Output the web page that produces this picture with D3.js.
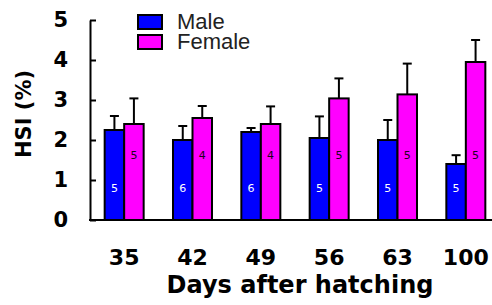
<!DOCTYPE html>
<html>
<head>
<meta charset="utf-8">
<script src="https://cdn.jsdelivr.net/npm/d3@7"></script>
<style>
  body { margin: 0; background: #fff; }
  svg { display: block; }
</style>
</head>
<body>
<svg id="chart" width="492" height="305"></svg>
<script>
// 数据
const days = ["35", "42", "49", "56", "63", "100"]
const series = ["Male", "Female"]
const maleHSI = [2.25, 2.0, 2.2, 2.05, 2.0, 1.4]
const maleErr = [0.35, 0.35, 0.1, 0.54, 0.5, 0.22]
const femaleHSI = [2.4, 2.55, 2.4, 3.04, 3.14, 3.95]
const femaleErr = [0.64, 0.3, 0.44, 0.5, 0.77, 0.55]
const maleN = ["5", "6", "6", "5", "5", "5"]
const femaleN = ["5", "4", "4", "5", "5", "5"]
const yTicks = [0, 1, 2, 3, 4, 5]

const colors = { Male: "#0000ff", Female: "#ff00ff" }
const fontBold = "'DejaVu Sans', sans-serif"

const svg = d3.select("#chart")

const x0 = d3.scaleBand().domain(days).range([90, 500]).padding(0)
const x1 = d3.scaleBand().domain(series).range([-19.5, 19.5])
const y = d3.scaleLinear().domain([0, 5]).range([220, 20])

const rows = days.map((d, i) => ({
    day: d,
    vals: [
        { s: "Male", v: maleHSI[i], e: maleErr[i], n: maleN[i] },
        { s: "Female", v: femaleHSI[i], e: femaleErr[i], n: femaleN[i] }
    ]
}))

// y 轴
const yAxis = svg.append("g").attr("transform", "translate(90,0)")
    .call(d3.axisLeft(y).tickValues(yTicks).tickFormat(d3.format("d")).tickSizeInner(-6).tickSizeOuter(0).tickPadding(22))
yAxis.select(".domain").attr("stroke", "#000").attr("stroke-width", 2)
yAxis.selectAll(".tick line").attr("stroke", "#000").attr("stroke-width", 2)
yAxis.selectAll(".tick text")
    .attr("font-family", fontBold).attr("font-weight", "bold").attr("font-size", 21).attr("fill", "#000")

// 柱子
const groups = svg.append("g").selectAll("g").data(rows).enter().append("g")
    .attr("transform", d => `translate(${x0(d.day) + x0.bandwidth() / 2},0)`)

// 误差线
groups.selectAll(".err").data(d => d.vals).enter().append("line")
    .attr("x1", d => x1(d.s) + x1.bandwidth() / 2).attr("x2", d => x1(d.s) + x1.bandwidth() / 2)
    .attr("y1", d => y(d.v)).attr("y2", d => y(d.v + d.e))
    .attr("stroke", "#000").attr("stroke-width", 2)
groups.selectAll(".cap").data(d => d.vals).enter().append("line")
    .attr("x1", d => x1(d.s) + x1.bandwidth() / 2 - 4.5).attr("x2", d => x1(d.s) + x1.bandwidth() / 2 + 4.5)
    .attr("y1", d => y(d.v + d.e)).attr("y2", d => y(d.v + d.e))
    .attr("stroke", "#000").attr("stroke-width", 2)

groups.selectAll("rect").data(d => d.vals).enter().append("rect")
    .attr("x", d => x1(d.s)).attr("y", d => y(d.v))
    .attr("width", x1.bandwidth()).attr("height", d => y(0) - y(d.v))
    .attr("fill", d => colors[d.s]).attr("stroke", "#000").attr("stroke-width", 2)

// 样本数
groups.selectAll(".n").data(d => d.vals).enter().append("text")
    .attr("x", d => x1(d.s) + x1.bandwidth() / 2)
    .attr("y", d => d.s === "Male" ? y(0.8) : y(1.62))
    .attr("dy", "0.35em").attr("text-anchor", "middle")
    .attr("font-family", fontBold).attr("font-size", 11)
    .attr("fill", d => d.s === "Male" ? "#fff" : "#200020")
    .text(d => d.n)

// x 轴
svg.append("line").attr("x1", 89).attr("x2", 492).attr("y1", y(0)).attr("y2", y(0))
    .attr("stroke", "#000").attr("stroke-width", 2)
svg.append("g").selectAll("text").data(days).enter().append("text")
    .attr("x", d => x0(d) + x0.bandwidth() / 2).attr("y", 265)
    .attr("text-anchor", "middle")
    .attr("font-family", fontBold).attr("font-weight", "bold").attr("font-size", 22).attr("fill", "#000")
    .text(d => d)

// 轴标题
svg.append("text").attr("x", 300).attr("y", 293).attr("text-anchor", "middle")
    .attr("font-family", fontBold).attr("font-weight", "bold").attr("font-size", 24).attr("fill", "#000")
    .text("Days after hatching")
svg.append("text").attr("transform", "translate(31,114) rotate(-90)").attr("text-anchor", "middle")
    .attr("font-family", fontBold).attr("font-weight", "bold").attr("font-size", 21).attr("fill", "#000")
    .text("HSI (%)")

// 图例
const legend = svg.append("g").selectAll("g").data(series).enter().append("g")
    .attr("transform", (d, i) => `translate(138,${15 + i * 20})`)
legend.append("rect").attr("width", 24).attr("height", 14)
    .attr("fill", d => colors[d]).attr("stroke", "#000").attr("stroke-width", 2)
legend.append("text").attr("x", 39).attr("y", 14)
    .attr("font-family", "'Liberation Sans', Arial, sans-serif").attr("font-size", 22).attr("fill", "#222")
    .text(d => d)
</script>
</body>
</html>
